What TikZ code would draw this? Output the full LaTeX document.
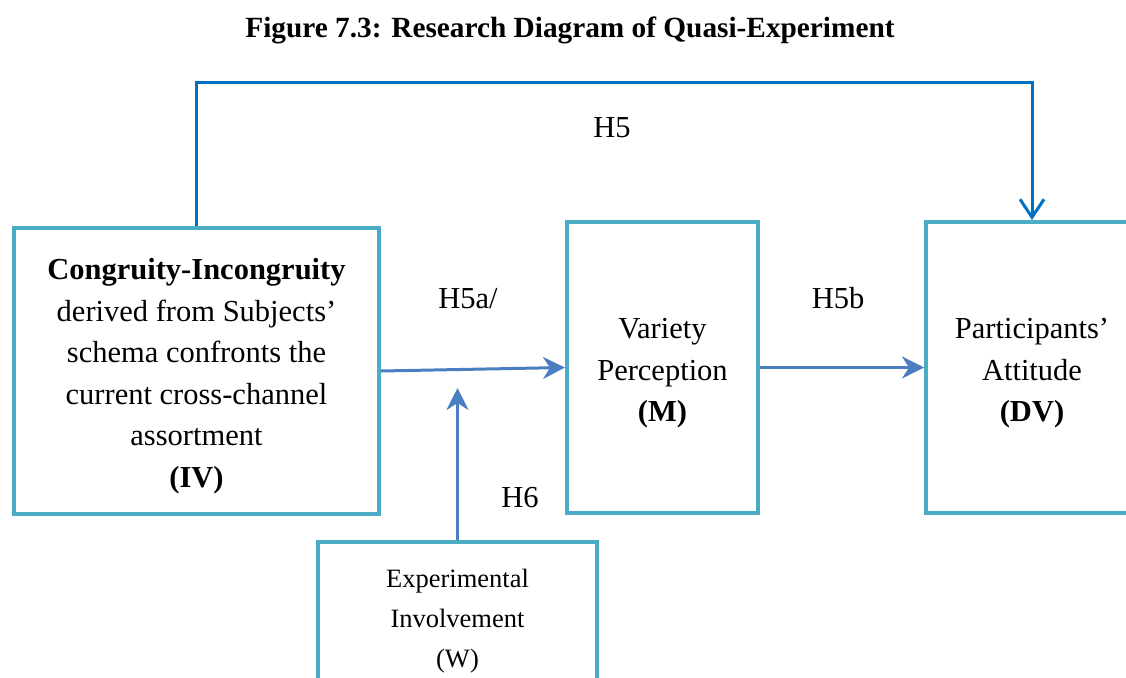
\documentclass[tikz,border=0pt]{standalone}
\usepackage{fontspec}
\setmainfont{Liberation Serif}
\usetikzlibrary{arrows.meta}
\definecolor{boxc}{HTML}{4BACC6}
\definecolor{topc}{HTML}{0070C0}
\definecolor{arrc}{HTML}{4A7EC0}
\tikzset{
  vbox/.style={draw=boxc, line width=4pt, inner sep=0pt},
  maintext/.style={font=\fontsize{30.5}{41.5}\selectfont, align=center, inner sep=0pt},
  lbl/.style={font=\fontsize{30.5}{36}\selectfont, inner sep=0pt},
  conn/.style={draw=arrc, line width=3pt, -{Stealth[length=22pt,width=22pt,inset=7pt]}},
  topconn/.style={draw=topc, line width=3pt, -{Straight Barb[length=18pt,width=24pt,line width=3pt]}}
}
\begin{document}
\begin{tikzpicture}[x=1pt,y=-1pt]
\useasboundingbox (0,0) rectangle (1126,677);
\node[font=\bfseries\fontsize{29.3}{34}\selectfont, inner sep=0pt] (title) at (570,30) {Figure 7.3: Research Diagram of Quasi-Experiment};
\node[vbox, minimum width=365pt, minimum height=286pt] (iv) at (196.5,371) {};
\node[vbox, minimum width=191pt, minimum height=291pt] (m) at (662.5,367.5) {};
\node[vbox, minimum width=212pt, minimum height=291pt] (dv) at (1032,367.5) {};
\node[vbox, minimum width=279pt, minimum height=156pt] (w) at (457.5,620) {};
\node[maintext] (ivtext) at ([yshift=-5pt]iv.center)
  {\textbf{Congruity-Incongruity}\\derived from Subjects’\\schema confronts the\\current cross-channel\\assortment\\\textbf{(IV)}};
\node[maintext] (mtext) at ([yshift=-6pt]m.center) {Variety\\Perception\\\textbf{(M)}};
\node[maintext] (dvtext) at ([yshift=-6pt]dv.center) {Participants’\\Attitude\\\textbf{(DV)}};
\node[font=\fontsize{26.5}{40}\selectfont, align=center, inner sep=0pt] (wtext) at ([yshift=-1pt]w.center)
  {Experimental\\Involvement\\(W)};
\coordinate (top) at (0,82);
\coordinate (h6end) at (457.5,388);
\draw[topconn] (iv.north) -- (iv.north |- top) -- (dv.north |- top) -- (dv.north);
\draw[conn] (iv.east) -- (m.west);
\draw[conn] (m.east) -- (dv.west);
\draw[conn] (w.north) -- (h6end);
\node[lbl] (h5) at (612,128) {H5};
\node[lbl] (h5a) at (468,299) {H5a/};
\node[lbl] (h5b) at (838,298) {H5b};
\node[lbl] (h6) at (520,498) {H6};
\end{tikzpicture}
\end{document}
